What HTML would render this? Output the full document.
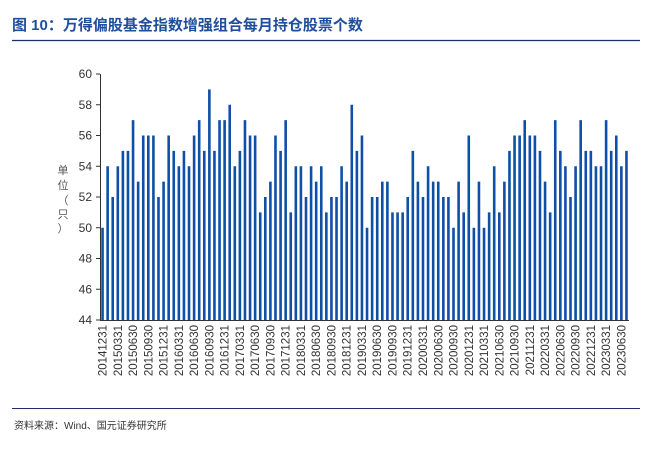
<!DOCTYPE html>
<html><head><meta charset="utf-8"><style>
body{margin:0;background:#fff;width:652px;height:451px;overflow:hidden;font-family:"Liberation Sans","Noto Sans CJK SC",sans-serif}
</style></head><body>
<svg width="652" height="451" xmlns="http://www.w3.org/2000/svg">
<text x="12" y="30" font-size="15" font-weight="bold" fill="#1f4e9c" font-family="Liberation Sans,Noto Sans CJK SC,sans-serif">图 10：万得偏股基金指数增强组合每月持仓股票个数</text>
<line x1="12" y1="40.5" x2="640" y2="40.5" stroke="#1a2f6e" stroke-width="1.2"/>
<g id="plot"></g>
<text font-size="11" fill="#555" text-anchor="middle" font-family="Noto Sans CJK SC,sans-serif"><tspan x="63" y="174">单</tspan><tspan x="63" y="189">位</tspan><tspan x="63" y="204">（</tspan><tspan x="63" y="218">只</tspan><tspan x="63" y="232">）</tspan></text>
<line x1="12" y1="408.5" x2="640" y2="408.5" stroke="#1a2f6e" stroke-width="1"/>
<text x="14" y="429" font-size="10" fill="#333" font-family="Liberation Sans,Noto Sans CJK SC,sans-serif">资料来源：Wind、国元证券研究所</text>
</svg>
<script>
const values=[50,54,52,54,55,55,57,53,56,56,56,52,53,56,55,54,55,54,56,57,55,59,55,57,57,58,54,55,57,56,56,51,52,53,
56,55,57,51,54,54,52,54,53,54,51,52,52,54,53,58,55,56,50,52,52,53,53,51,51,51,52,55,53,52,54,53,53,52,52,
50,53,51,56,50,53,50,51,54,51,53,55,56,56,57,56,56,55,53,51,57,55,54,52,54,57,55,55,54,54,57,55,56,54,55];
const yTicks=[44,46,48,50,52,54,56,58,60];
const startYear=2014,startMonth=12;
const NS="http://www.w3.org/2000/svg";
const g=document.getElementById('plot');
const x0=100,x1=629,yTop=74,yBot=320,yMin=44,yMax=60;
const y=v=>yBot-(v-yMin)/(yMax-yMin)*(yBot-yTop);
const step=(x1-x0)/values.length;
const xc=i=>x0+step*(i+0.5);
function mk(t,a){const e=document.createElementNS(NS,t);for(const k in a)e.setAttribute(k,a[k]);g.appendChild(e);return e;}
yTicks.forEach(t=>{
 const tx=mk('text',{x:92,y:y(t)+4,'font-size':12,fill:'#333','text-anchor':'end'});tx.textContent=t;
 
 
 const tk=mk('line',{x1:x0-4,x2:x0,y1:y(t),y2:y(t),stroke:'#333'});
 
 
});
values.forEach((v,i)=>{
 const r=mk('rect',{x:xc(i)-1.3,y:y(v),width:2.6,height:yBot-y(v),fill:'#0f4fa8'});
 
 
});
const ax=mk('line',{x1:x0+0.5,x2:x0+0.5,y1:yTop,y2:yBot,stroke:'#333'});


const bx=mk('line',{x1:x0,x2:x1,y1:yBot+0.5,y2:yBot+0.5,stroke:'#333'});


const ends={3:'31',6:'30',9:'30',12:'31'};
for(let i=0;i<values.length;i+=3){
 const m=(startMonth-1+i)%12+1,yr=startYear+Math.floor((startMonth-1+i)/12);
 const lab=''+yr+(m<10?'0':'')+m+ends[m];
 const t=mk('text',{transform:`translate(${xc(i)+4},${yBot+5}) rotate(-90)`,'font-size':11.5,fill:'#333','text-anchor':'end'});
 t.textContent=lab;
 
 
}
</script>
</body></html>
